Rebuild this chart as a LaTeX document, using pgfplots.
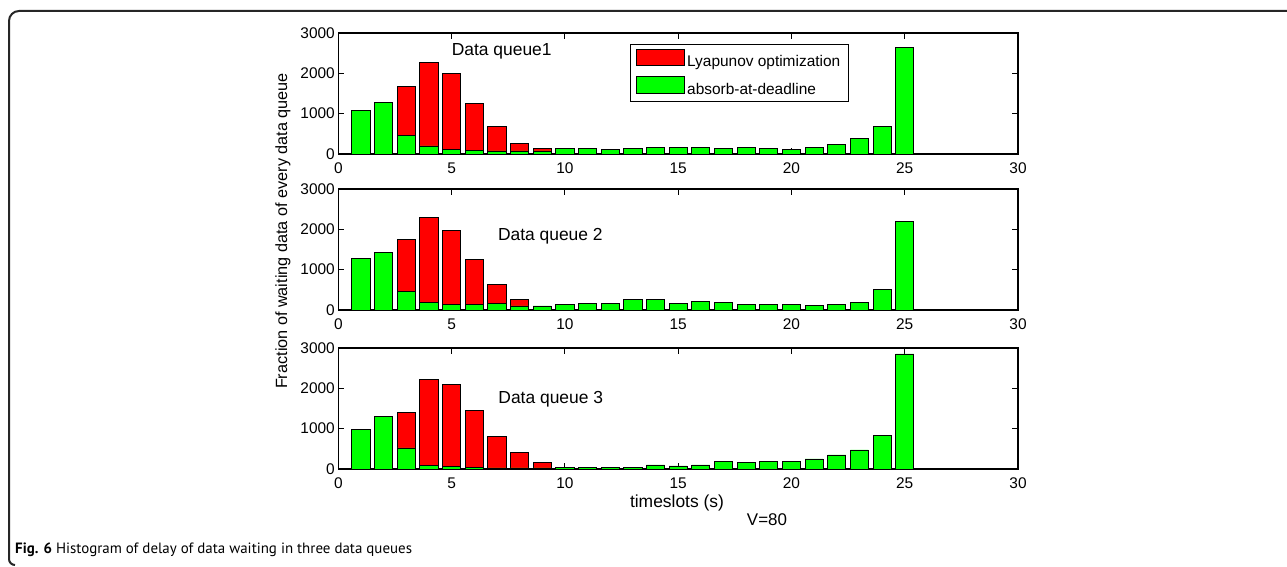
\documentclass[border=0pt]{standalone}
\usepackage{fontspec}
\setmainfont{Liberation Sans}
\newfontfamily\capfont{PT Sans}
\usepackage{pgfplots}
\pgfplotsset{compat=1.18}
\definecolor{mgreen}{RGB}{0,255,0}
\definecolor{mred}{RGB}{255,0,0}
\pgfplotsset{
  panel/.style={
    scale only axis, width=679.7bp, height=121bp,
    xmin=0, xmax=30, ymin=0, ymax=3000,
    xtick={0,5,...,30}, ytick={0,1000,2000,3000},
    tick align=inside, major tick length=6bp,
    axis line style={line width=1.1bp},
    every tick/.style={line width=0.9bp, black},
    /pgf/number format/1000 sep={},
    /pgf/number format/assume math mode=true,
    tick label style={font=\fontsize{15.5}{17}\selectfont},
    xticklabel style={yshift=-5bp},
    anchor=south west,
  },
  redbar/.style={ybar, bar width=0.8, bar shift=0pt, fill=mred, draw=black, line width=0.8bp},
  greenbar/.style={ybar, bar width=0.8, bar shift=0pt, fill=mgreen, draw=black, line width=0.8bp},
}
\begin{document}
\begin{tikzpicture}
\path[use as bounding box] (0,0) rectangle (1287bp,567bp);
\draw[line width=2bp, black!85] (1287bp,556bp) -- (19bp,556bp) arc[start angle=90,end angle=180,radius=10bp] -- (9bp,8bp) arc[start angle=180,end angle=270,radius=6bp];

% Panel 1
\begin{axis}[panel, at={(338.3bp,413bp)},
  legend style={at={(0.429,0.909)}, anchor=north west, draw=black, line width=1bp,
    font=\fontsize{15.5}{17}\selectfont, row sep=6bp, inner xsep=6bp, inner ysep=4bp},
  legend cell align=left,
  legend image code/.code={\draw[#1] (0bp,-3.5bp) rectangle (48bp,13bp);},
]
\addplot[redbar] coordinates {(3,1675) (4,2280) (5,2000) (6,1250) (7,680) (8,265) (9,140)};
\addlegendentry{Lyapunov optimization}
\addplot[greenbar] coordinates {(1,1070) (2,1280) (3,465) (4,200) (5,110) (6,85) (7,75) (8,75) (9,75) (10,140) (11,140) (12,116) (13,140) (14,166) (15,166) (16,166) (17,140) (18,166) (19,140) (20,116) (21,166) (22,232) (23,390) (24,680) (25,2645)};
\addlegendentry{absorb-at-deadline}
\node[anchor=west, inner sep=0pt, font=\fontsize{17.5}{19}\selectfont] at (axis cs:5.0,2536) {Data queue1};
\end{axis}

% Panel 2
\begin{axis}[panel, at={(338.3bp,257bp)}]
\addplot[redbar] coordinates {(3,1746) (4,2285) (5,1965) (6,1245) (7,640) (8,262)};
\addplot[greenbar] coordinates {(1,1275) (2,1425) (3,460) (4,190) (5,140) (6,140) (7,165) (8,100) (9,100) (10,140) (11,165) (12,165) (13,255) (14,255) (15,165) (16,220) (17,197) (18,140) (19,140) (20,140) (21,107) (22,140) (23,197) (24,500) (25,2195)};
\node[anchor=west, inner sep=0pt, font=\fontsize{17.5}{19}\selectfont] at (axis cs:7.04,1828) {Data queue 2};
\end{axis}

% Panel 3
\begin{axis}[panel, at={(338.3bp,98bp)}]
\addplot[redbar] coordinates {(3,1405) (4,2213) (5,2095) (6,1455) (7,796) (8,400) (9,166) (10,45)};
\addplot[greenbar] coordinates {(1,978) (2,1310) (3,522) (4,91) (5,66) (6,41) (7,25) (8,25) (9,25) (10,40) (11,41) (12,41) (13,41) (14,100) (15,75) (16,100) (17,190) (18,166) (19,190) (20,190) (21,249) (22,348) (23,473) (24,821) (25,2852)};
\node[anchor=west, inner sep=0pt, font=\fontsize{17.5}{19}\selectfont] at (axis cs:7.06,1724) {Data queue 3};
\end{axis}

\node[rotate=90, font=\fontsize{16.3}{18}\selectfont] at (283bp,336bp) {Fraction of waiting data of every data queue};
\node[font=\fontsize{17.5}{19}\selectfont] at (677bp,64bp) {timeslots (s)};
\node[font=\fontsize{17}{19}\selectfont] at (767bp,47bp) {V=80};
\node[anchor=base west, font=\capfont\fontsize{15}{17}\selectfont, inner sep=0pt] at (15bp,14bp) {\textbf{Fig. 6} Histogram of delay of data waiting in three data queues};
\end{tikzpicture}
\end{document}
